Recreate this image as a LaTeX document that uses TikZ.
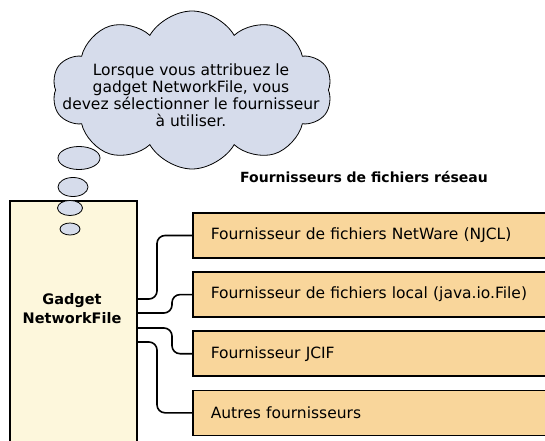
\documentclass[tikz,border=0pt]{standalone}
\usepackage{fontspec}
\setmainfont{DejaVu Sans}
\usetikzlibrary{positioning,calc,shapes.geometric,shapes.symbols}
\definecolor{cloudblue}{RGB}{214,220,235}
\definecolor{cream}{RGB}{253,247,220}
\definecolor{apricot}{RGB}{249,214,155}
\tikzset{
    provider/.style = {
        draw,
        line width=1.6pt,
        fill = apricot,
        anchor = west,
        minimum height=45pt,
        text width=334pt,
        inner xsep=18pt,
        align=left,
        },
    gadget box/.style = {
        draw,
        line width=1.6pt,
        fill = cream,
        minimum width=127pt,
        minimum height=260pt,
        anchor = north west,
        },
    thought/.style = {
        draw,
        cloud,
        cloud puffs=10,
        cloud puff arc=120,
        cloud ignores aspect,
        thick,
        fill = cloudblue,
        minimum width=280pt,
        minimum height=158pt,
        },
    bubble/.style = {
        draw,
        ellipse,
        thick,
        fill = cloudblue,
        inner sep=0pt,
        },
    link/.style = {
        line width=1.6pt,
        rounded corners=8pt,
        },
}

\begin{document}
\begin{tikzpicture}[x=1pt, y=1pt, font=\fontsize{15.5}{17}\selectfont]
            \useasboundingbox (0,0) rectangle (545,440);
            \clip (0,0) rectangle (545,440);

            \node[gadget box] (gadget) at (9,240) {};
            \node[font=\fontsize{14.5}{19}\selectfont\bfseries, align=center] (gadgetname) at (72,131) {Gadget\\NetworkFile};

            \node[thought] (cloud) at (192,350) {};
            \node[align=center] (cloudtext) at (191,345) {Lorsque vous attribuez le\\gadget NetworkFile, vous\\devez sélectionner le fournisseur\\à utiliser.};
            \node[bubble, minimum width=42pt, minimum height=23pt] (b1) at (79,282) {};
            \node[bubble, minimum width=30pt, minimum height=19pt] (b2) at (73,253) {};
            \node[bubble, minimum width=25pt, minimum height=15pt] (b3) at (70,232) {};
            \node[bubble, minimum width=20pt, minimum height=12pt] (b4) at (70,211) {};

            \node[font=\fontsize{14}{17}\selectfont\bfseries] (title) at (364,263) {Fournisseurs de fichiers réseau};

            \node[provider] (p1) at (192,204.5) {Fournisseur de fichiers NetWare (NJCL)};
            \node[provider, below=12.5pt of p1] (p2) {Fournisseur de fichiers local (java.io.File)};
            \node[provider, below=12.5pt of p2] (p3) {Fournisseur JCIF};
            \node[provider, below=12.5pt of p3] (p4) {Autres fournisseurs};

            \coordinate (g1) at ($(gadget.north east)+(0,-99)$);
            \coordinate (g2) at ($(gadget.north east)+(0,-113)$);
            \coordinate (g3) at ($(gadget.north east)+(0,-128)$);
            \coordinate (g4) at ($(gadget.north east)+(0,-142)$);

            \draw[link] (g1) -| ([xshift=-35pt]p1.west) -- (p1.west);
            \draw[link] (g2) -| ([xshift=-20pt]p2.west) -- (p2.west);
            \draw[link] (g3) -| ([xshift=-20pt]p3.west) -- (p3.west);
            \draw[link] (g4) -| ([xshift=-35pt]p4.west) -- (p4.west);
        \end{tikzpicture}
\end{document}
